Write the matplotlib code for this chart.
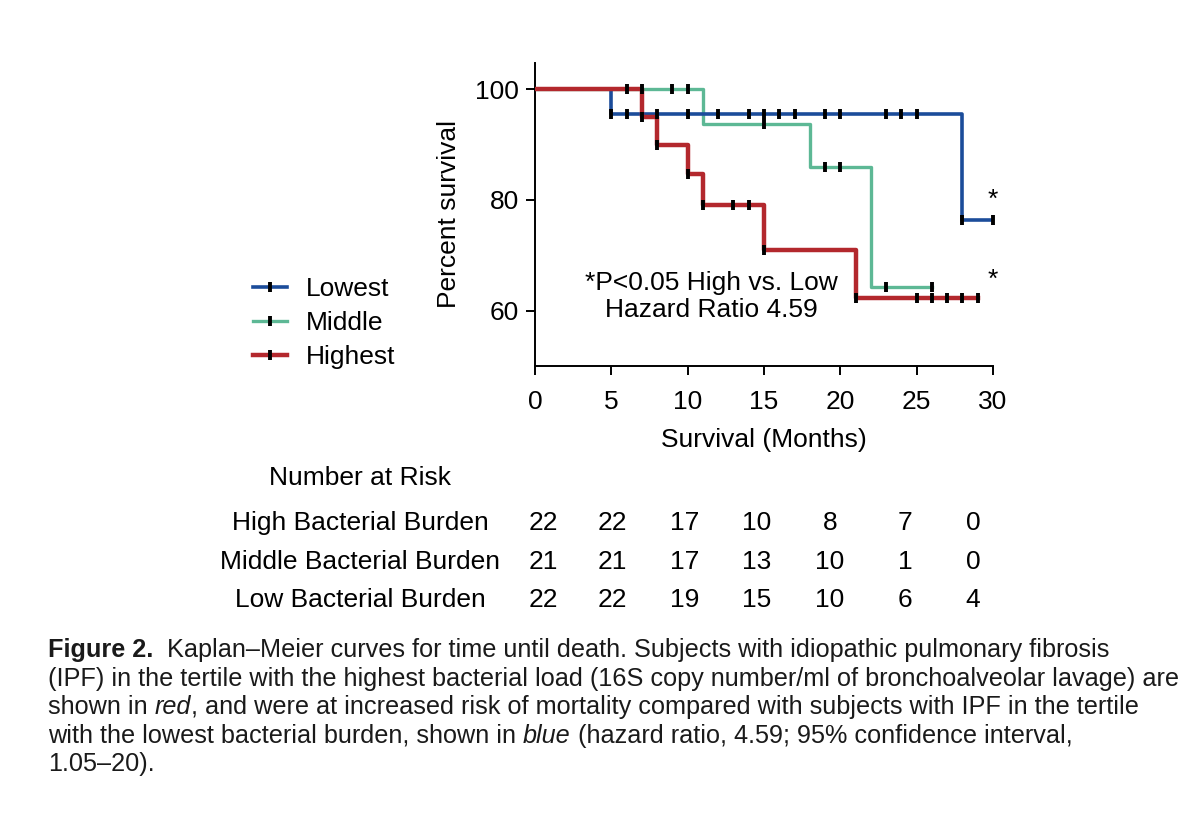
import numpy as np
import matplotlib.pyplot as plt
from matplotlib.lines import Line2D

plt.rcParams['font.family'] = ['Liberation Sans', 'DejaVu Sans']

# Kaplan-Meier steps: time (months) where survival changes, percent survival after it
low_t = [0, 5, 28, 30]
low_s = [100, 95.5, 76.4, 76.4]
low_marks = [5, 6, 8, 10, 12, 14, 15, 16, 17, 19, 20, 23, 24, 25, 28, 30]

mid_t = [0, 11, 18, 22, 26]
mid_s = [100, 93.7, 85.9, 64.2, 64.2]
mid_marks = [6, 7, 9, 10, 15, 19, 20, 23, 26]

high_t = [0, 7, 8, 10, 11, 15, 21, 29]
high_s = [100, 94.9, 89.9, 84.7, 79.1, 71.0, 62.2, 62.2]
high_marks = [7, 8, 10, 11, 13, 14, 15, 21, 25, 26, 27, 28, 29]

legend_labels = ['Lowest', 'Middle', 'Highest']

# number at risk table
risk_rows = ['High Bacterial Burden', 'Middle Bacterial Burden', 'Low Bacterial Burden']
risk_high = [22, 22, 17, 10, 8, 7, 0]
risk_mid = [21, 21, 17, 13, 10, 1, 0]
risk_low = [22, 22, 19, 15, 10, 6, 4]

c_low, c_mid, c_high = '#1b4c9a', '#5db895', '#b3282d'
W, H = 1200, 823
FS = 19


def level(t, s, pts):
    idx = np.searchsorted(t, pts, side='right') - 1
    return np.asarray(s)[idx]


def fx(px):
    return px / W


def fy(py):
    return 1 - py / H


fig = plt.figure(figsize=(W / 100, H / 100), dpi=100)
ax = fig.add_axes([fx(535), fy(366), fx(993) - fx(535), fy(62.7) - fy(366)])

ax.step(mid_t, mid_s, where='post', color=c_mid, lw=2.4, zorder=2)
ax.step(low_t, low_s, where='post', color=c_low, lw=2.6, zorder=3)
ax.step(high_t, high_s, where='post', color=c_high, lw=3.2, zorder=4)
for t, s, m in [(mid_t, mid_s, mid_marks), (low_t, low_s, low_marks), (high_t, high_s, high_marks)]:
    ax.plot(m, level(t, s, m), ls='none', marker='|', color='k', ms=7.5, mew=2.8,
            clip_on=False, zorder=6)

ax.set_xlim(0, 30)
ax.set_ylim(50, 104.8)
ax.set_xticks([0, 5, 10, 15, 20, 25, 30])
ax.set_yticks([60, 80, 100])
for sp in ['top', 'right']:
    ax.spines[sp].set_visible(False)
for sp in ['left', 'bottom']:
    ax.spines[sp].set_linewidth(1.4)
ax.tick_params(direction='out', length=6.5, width=1.4, labelsize=FS, pad=5)
ax.tick_params(axis='x', pad=11)
ax.set_xlabel('Survival (Months)', fontsize=FS, labelpad=10)
ax.set_ylabel('Percent survival', fontsize=FS, labelpad=10)

ax.text(11.56, 62.5, '*P<0.05 High vs. Low\nHazard Ratio 4.59', fontsize=FS,
        ha='center', va='center', linespacing=1.15)
ax.text(30, 80.0, '*', fontsize=FS, ha='center', va='center')
ax.text(30, 65.5, '*', fontsize=FS, ha='center', va='center')

handles = [Line2D([], [], color=c, lw=lw, marker='|', mec='k', ms=7.5, mew=2.8)
           for c, lw in [(c_low, 2.6), (c_mid, 2.4), (c_high, 3.2)]]
fig.legend(handles, legend_labels, loc='center left', bbox_to_anchor=(fx(253), fy(323)),
           frameon=False, fontsize=FS, handlelength=1.3, handletextpad=0.7,
           labelspacing=0.38, borderaxespad=0, borderpad=0)

# number at risk
fig.text(fx(360), fy(478), 'Number at Risk', fontsize=FS, ha='center', va='center')
col_px = [543, 612, 685, 757, 830, 905, 973]
row_py = [523, 562, 600]
for name, vals, py in zip(risk_rows, [risk_high, risk_mid, risk_low], row_py):
    fig.text(fx(360), fy(py), name, fontsize=FS, ha='center', va='center')
    for v, px in zip(vals, col_px):
        fig.text(fx(px), fy(py), str(v), fontsize=FS, ha='center', va='center')

# caption, built piece by piece so bold / italic words sit inline
CFS = 18.2
caption = [
    [('Figure 2.', 'bold', 'normal'),
     ('  Kaplan–Meier curves for time until death. Subjects with idiopathic pulmonary fibrosis', 'normal', 'normal')],
    [('(IPF) in the tertile with the highest bacterial load (16S copy number/ml of bronchoalveolar lavage) are', 'normal', 'normal')],
    [('shown in ', 'normal', 'normal'), ('red', 'normal', 'italic'),
     (', and were at increased risk of mortality compared with subjects with IPF in the tertile', 'normal', 'normal')],
    [('with the lowest bacterial burden, shown in ', 'normal', 'normal'), ('blue', 'normal', 'italic'),
     (' (hazard ratio, 4.59; 95% confidence interval,', 'normal', 'normal')],
    [('1.05–20).', 'normal', 'normal')],
]
cap_py = [650, 679, 707, 736, 764]
for pieces, py in zip(caption, cap_py):
    prev = None
    for s, wt, st in pieces:
        if prev is None:
            prev = fig.text(fx(48), fy(py), s, fontsize=CFS, fontweight=wt, fontstyle=st,
                            ha='left', va='center', color='#1a1a1a')
        else:
            prev = ax.annotate(s, xy=(1, 0), xycoords=prev, fontsize=CFS, fontweight=wt,
                               fontstyle=st, ha='left', va='bottom', color='#1a1a1a',
                               annotation_clip=False)

plt.savefig('out.png', dpi=100)
